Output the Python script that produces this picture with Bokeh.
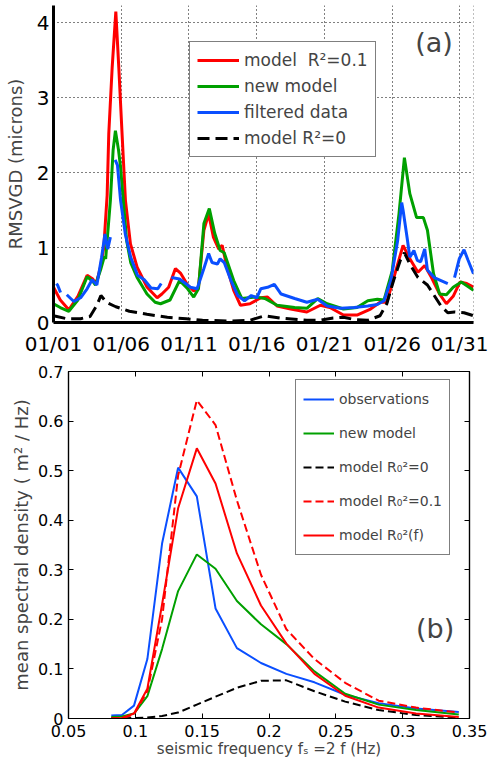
import numpy as np
from bokeh.plotting import figure
from bokeh.models import Range1d, FixedTicker, Span, Label, LinearAxis
from bokeh.embed import file_html
from bokeh.resources import INLINE

nan = float("nan")
FONT = "DejaVu Sans"

# ---------------- Panel (a): RMSVGD time series (days since 01/01) ----------------
date_ticks = [0, 5, 10, 15, 20, 25, 30]
date_labels = ["01/01", "01/06", "01/11", "01/16", "01/21", "01/26", "01/31"]
rms_ticks = [0, 1, 2, 3, 4]
rms_labels = ["0", "1", "2", "3", "4"]

red_day = [0, 0.5, 1.13, 1.8, 2.48, 2.9, 3.1, 3.22, 3.47, 3.71, 3.96, 4.08, 4.33, 4.6, 4.82,
           5.06, 5.31, 5.68, 6.17, 6.91, 7.65, 8.0, 8.5, 9.0, 9.37, 9.9, 10.35, 10.7, 11.1,
           11.45, 11.8, 12.2, 12.45, 12.8, 13.3, 13.8, 14.5, 15.3, 15.8, 16.5, 17.5, 18.7,
           19.7, 20.4, 21.4, 22.4, 23.4, 24.1, 24.6, 25.2, 25.8, 26.3, 26.9, 27.4, 27.9,
           28.5, 29.0, 29.5, 30.0, 30.5, 31.0]
red_val = [0.47, 0.30, 0.17, 0.35, 0.63, 0.58, 0.52, 0.57, 0.74, 1.0, 1.7, 2.52, 3.4, 4.15, 3.4,
           2.52, 1.63, 1.05, 0.74, 0.47, 0.33, 0.38, 0.47, 0.72, 0.66, 0.5, 0.42, 0.47, 1.23,
           1.45, 1.14, 0.98, 1.03, 0.74, 0.43, 0.23, 0.25, 0.33, 0.34, 0.22, 0.18, 0.14,
           0.23, 0.2, 0.1, 0.1, 0.18, 0.27, 0.27, 0.65, 1.03, 0.85, 0.67, 0.76, 0.6,
           0.38, 0.25, 0.35, 0.54, 0.52, 0.47]

green_day = [0, 0.5, 1.13, 1.8, 2.48, 2.9, 3.1, 3.47, 3.75, 3.85, 4.2, 4.4, 4.57, 4.8, 4.95,
             5.4, 5.7, 6.17, 6.9, 7.5, 7.9, 8.6, 9.3, 9.9, 10.35, 10.7, 11.1, 11.5, 11.9,
             12.3, 12.6, 13.3, 13.9, 14.9, 15.6, 16.5, 17.8, 18.7, 19.5, 20.2, 21.4, 22.4,
             23.2, 23.9, 24.4, 25.0, 25.5, 25.9, 26.3, 26.8, 27.3, 27.6, 28.05, 28.5, 29.0,
             29.5, 30.1, 31.0]
green_val = [0.25, 0.2, 0.15, 0.3, 0.61, 0.55, 0.5, 0.7, 0.88, 0.85, 1.63, 2.3, 2.56, 2.3, 2.07,
             1.09, 0.8, 0.6, 0.38, 0.27, 0.25, 0.3, 0.56, 0.45, 0.34, 0.45, 1.32, 1.52, 1.19,
             0.96, 0.93, 0.56, 0.32, 0.34, 0.32, 0.23, 0.2, 0.19, 0.32, 0.25, 0.18, 0.2,
             0.29, 0.31, 0.3, 0.69, 1.45, 2.2, 1.72, 1.4, 1.4, 1.23, 0.65, 0.38, 0.37,
             0.47, 0.54, 0.43]

blue_day = [0.22, 0.3, 0.52, nan, 0.98, 1.5, 2.0, 2.48, 2.85, 3.2, 3.55, 3.8, 4.0, 4.2, nan,
            4.55, 4.72, 4.95, 5.3, 5.7, 6.2, 6.7, 7.2, 7.7, 7.95, nan, 8.7, 9.3, 9.9, 10.1,
            10.6, 11.1, 11.45, 11.7, 12.1, 12.3, 12.6, 13.1, 13.6, 14.1, 14.6, 15.0, 15.3,
            15.8, 16.3, 16.8, 17.8, 18.7, 19.5, 20.2, 21.2, 22.2, 23.2, 23.9, 24.4, 24.9,
            25.4, 25.7, 25.8, 26.1, 26.3, 26.6, 26.85, 27.1, 27.4, 27.6, 28.1, 28.6, 29.1,
            nan, 29.6, 29.95, 30.3, 30.6, 31.0]
blue_val = [0.52, 0.5, 0.4, nan, 0.37, 0.28, 0.33, 0.45, 0.57, 0.5, 0.87, 1.18, 0.98, 1.14, nan,
            2.17, 2.1, 1.63, 1.18, 0.87, 0.63, 0.57, 0.46, 0.45, 0.52, nan, 0.6, 0.58, 0.5, 0.47,
            0.45, 0.72, 0.92, 0.8, 0.78, 0.85, 0.8, 0.56, 0.36, 0.29, 0.36, 0.33, 0.45,
            0.47, 0.51, 0.38, 0.32, 0.27, 0.31, 0.22, 0.19, 0.2, 0.22, 0.24, 0.29, 0.56,
            1.09, 1.6, 1.5, 1.13, 0.87, 0.96, 0.83, 0.81, 0.98, 0.7, 0.6, 0.56, 0.52,
            nan, 0.6, 0.85, 0.97, 0.83, 0.65]

black_day = [0, 1.0, 2.0, 2.7, 3.2, 3.5, 3.9, 4.6, 5.6, 6.9, 8.4, 9.8, 11.0, 13.0, 14.5, 15.6,
             16.7, 18.7, 19.7, 20.65, 21.4, 22.2, 23.2, 24.1, 24.6, 25.1, 25.6, 25.9, 26.3,
             26.9, 27.6, 28.1, 28.6, 29.1, 29.6, 30.3, 31.0]
black_val = [0.09, 0.05, 0.05, 0.08, 0.23, 0.36, 0.27, 0.21, 0.15, 0.11, 0.07, 0.05, 0.03, 0.02,
             0.03, 0.09, 0.06, 0.03, 0.03, 0.06, 0.07, 0.04, 0.03, 0.09, 0.25, 0.56, 0.83, 0.93,
             0.78, 0.6, 0.5, 0.36, 0.22, 0.13, 0.14, 0.13, 0.09]

# ---------------- Panel (b): mean spectral density ----------------
freq = [0.082, 0.09, 0.099, 0.109, 0.12, 0.132, 0.146, 0.16, 0.176, 0.194, 0.213, 0.234,
        0.257, 0.282, 0.31, 0.342]
obs = [0.006, 0.007, 0.026, 0.12, 0.353, 0.506, 0.448, 0.222, 0.142, 0.112, 0.09, 0.073,
       0.048, 0.031, 0.02, 0.013]
new_model = [0.003, 0.004, 0.01, 0.045, 0.14, 0.257, 0.331, 0.302, 0.237, 0.19, 0.15, 0.095,
             0.05, 0.028, 0.017, 0.008]
model_r0 = [0.0, 0.0, 0.001, 0.002, 0.005, 0.012, 0.028, 0.044, 0.062, 0.076, 0.077, 0.055,
            0.034, 0.017, 0.007, 0.002]
model_r01 = [0.0, 0.001, 0.008, 0.055, 0.2, 0.49, 0.642, 0.592, 0.44, 0.29, 0.18, 0.12,
             0.072, 0.036, 0.022, 0.012]
model_rf = [0.0, 0.001, 0.01, 0.06, 0.23, 0.424, 0.545, 0.474, 0.333, 0.228, 0.151, 0.09,
            0.046, 0.022, 0.01, 0.003]
f_ticks = [0.05, 0.1, 0.15, 0.2, 0.25, 0.3, 0.35]
f_labels = ["0.05", "0.1", "0.15", "0.2", "0.25", "0.3", "0.35"]
d_ticks = [0, 0.1, 0.2, 0.3, 0.4, 0.5, 0.6, 0.7]
d_labels = ["0", "0.1", "0.2", "0.3", "0.4", "0.5", "0.6", "0.7"]

RED = "#ff0000"
GREEN = "#00a000"
BLUE = "#0a4fff"

# ---------------- figure (a) ----------------
p1 = figure(width=488, height=358, x_range=Range1d(0, 31), y_range=Range1d(0, 4.23),
            output_backend="svg", toolbar_location=None,
            min_border_left=53, min_border_right=15, min_border_top=5, min_border_bottom=36)
p1.outline_line_color = None
p1.background_fill_color = "white"
xa1 = p1.below[0]
ya1 = p1.left[0]
xa1.ticker = FixedTicker(ticks=date_ticks)
xa1.major_label_overrides = dict(zip(date_ticks, date_labels))
ya1.ticker = FixedTicker(ticks=rms_ticks)
ya1.major_label_overrides = dict(zip(rms_ticks, rms_labels))
for ax in (xa1, ya1):
    ax.axis_line_width = 3
    ax.axis_line_color = "black"
    ax.major_tick_in = 0
    ax.major_tick_out = 0
    ax.minor_tick_in = 0
    ax.minor_tick_out = 0
    ax.major_label_text_font = FONT
    ax.major_label_text_font_size = "20px"
    ax.major_label_text_font_style = "normal"
    ax.major_label_text_color = "black"
xa1.major_label_standoff = 9
ya1.major_label_standoff = 4
ya1.axis_label = "RMSVGD (microns)"
ya1.axis_label_text_font = FONT
ya1.axis_label_text_font_size = "18px"
ya1.axis_label_text_font_style = "normal"
ya1.axis_label_standoff = 8
p1.grid.grid_line_color = "black"
p1.grid.grid_line_dash = "1 3"
p1.grid.grid_line_width = 1
p1.add_layout(Span(location=31, dimension="height", line_color="black", line_dash="1 3", line_width=1))

p1.line(red_day, red_val, line_color=RED, line_width=3, legend_label="model  R²=0.1")
p1.line(green_day, green_val, line_color=GREEN, line_width=3, legend_label="new model")
p1.line(blue_day, blue_val, line_color=BLUE, line_width=3, legend_label="filtered data")
p1.line(black_day, black_val, line_color="black", line_width=3, line_dash="12 6",
        legend_label="model R²=0")

lg1 = p1.legend[0]
lg1.location = (136, 165)
lg1.border_line_color = "black"
lg1.border_line_width = 1.5
lg1.background_fill_alpha = 1
lg1.label_text_font = FONT
lg1.label_text_font_size = "17px"
lg1.glyph_width = 42
lg1.glyph_height = 22
lg1.label_height = 22
lg1.spacing = 4
lg1.padding = 7
lg1.margin = 0
lg1.label_standoff = 5

p1.add_layout(Label(x=26.7, y=3.73, text="(a)", text_font=FONT, text_font_size="27px",
                    text_baseline="middle", text_align="left"))

# ---------------- figure (b) ----------------
p2 = figure(width=488, height=406, x_range=Range1d(0.05, 0.35), y_range=Range1d(0, 0.7),
            output_backend="svg", toolbar_location=None,
            min_border_left=68, min_border_right=19, min_border_top=13, min_border_bottom=46)
p2.grid.visible = False
p2.outline_line_color = "black"
p2.outline_line_width = 1.2
xa2 = p2.below[0]
ya2 = p2.left[0]
xa2.ticker = FixedTicker(ticks=f_ticks)
xa2.major_label_overrides = dict(zip(f_ticks, f_labels))
ya2.ticker = FixedTicker(ticks=d_ticks)
ya2.major_label_overrides = dict(zip(d_ticks, d_labels))
top_ax = LinearAxis(ticker=FixedTicker(ticks=f_ticks))
right_ax = LinearAxis(ticker=FixedTicker(ticks=d_ticks))
p2.add_layout(top_ax, "above")
p2.add_layout(right_ax, "right")
for ax in (xa2, ya2, top_ax, right_ax):
    ax.axis_line_color = "black"
    ax.axis_line_width = 1.2
    ax.major_tick_in = 5
    ax.major_tick_out = 0
    ax.minor_tick_in = 0
    ax.minor_tick_out = 0
    ax.major_tick_line_color = "black"
    ax.major_label_text_font = FONT
    ax.major_label_text_font_size = "16px"
    ax.major_label_text_font_style = "normal"
    ax.major_label_text_color = "black"
for ax in (top_ax, right_ax):
    ax.major_label_text_font_size = "1px"
    ax.major_label_text_color = None
    ax.major_label_standoff = 0
xa2.major_label_standoff = 6
ya2.major_label_standoff = 5
xa2.axis_label = "seismic frequency fₛ =2 f (Hz)"
xa2.axis_label_standoff = 0
ya2.axis_label = "mean spectral density ( m² / Hz)"
ya2.axis_label_standoff = 3
for ax, fs in ((xa2, "15px"), (ya2, "18px")):
    ax.axis_label_text_font = FONT
    ax.axis_label_text_font_size = fs
    ax.axis_label_text_font_style = "normal"

p2.line(freq, obs, line_color=BLUE, line_width=2, legend_label="observations")
p2.line(freq, new_model, line_color=GREEN, line_width=2, legend_label="new model")
p2.line(freq, model_r0, line_color="black", line_width=2, line_dash="8 4",
        legend_label="model R₀²=0")
p2.line(freq, model_r01, line_color=RED, line_width=2, line_dash="8 4",
        legend_label="model R₀²=0.1")
p2.line(freq, model_rf, line_color=RED, line_width=2, legend_label="model R₀²(f)")

lg2 = p2.legend[0]
lg2.location = (227, 163)
lg2.border_line_color = "black"
lg2.border_line_width = 1
lg2.background_fill_alpha = 1
lg2.label_text_font = FONT
lg2.label_text_font_size = "14px"
lg2.glyph_width = 31
lg2.glyph_height = 24
lg2.label_height = 24
lg2.spacing = 10
lg2.padding = 7
lg2.margin = 0
lg2.label_standoff = 5

p2.add_layout(Label(x=0.31, y=0.182, text="(b)", text_font=FONT, text_font_size="27px",
                    text_baseline="middle", text_align="left"))

open("out.html", "w").write(file_html([p1, p2], INLINE))
